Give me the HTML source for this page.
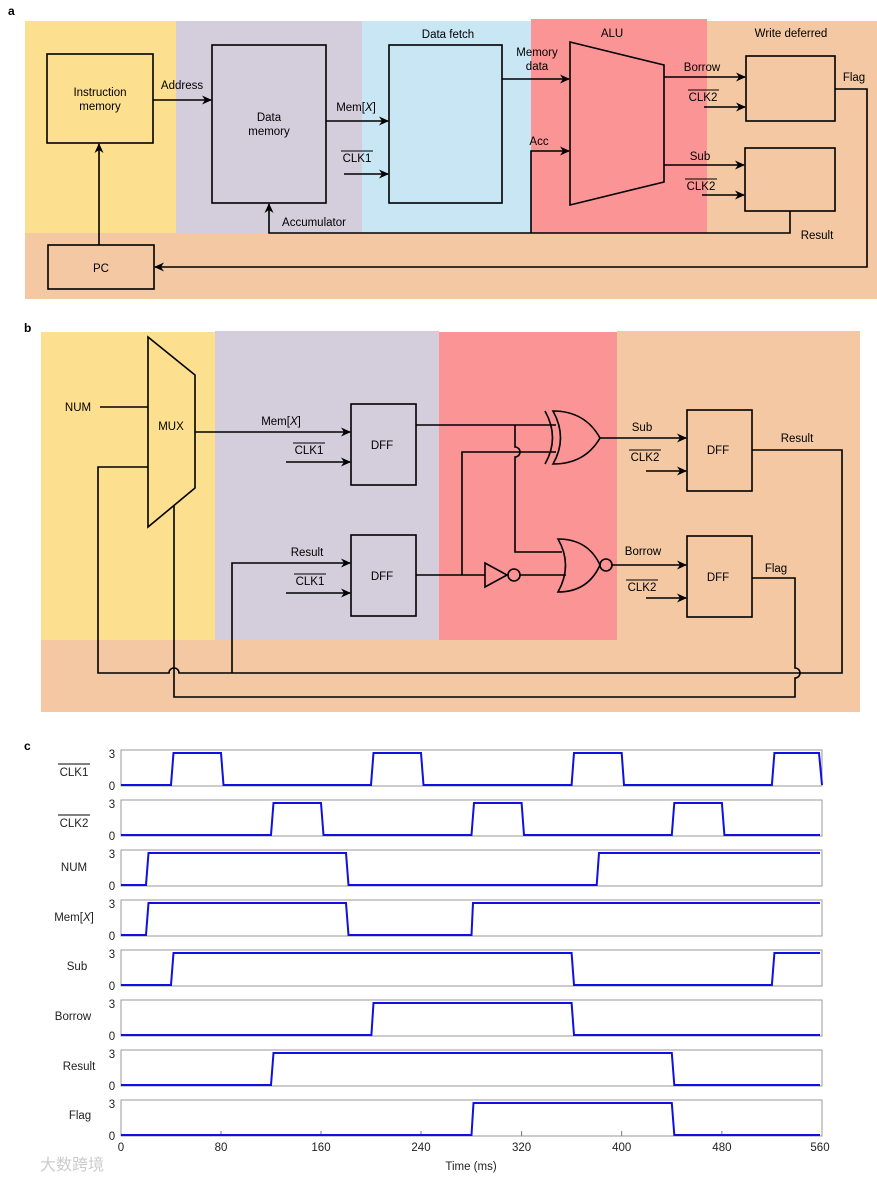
<!DOCTYPE html>
<html><head><meta charset="utf-8"><style>
html,body{margin:0;padding:0;background:#fff;}
svg{display:block;font-family:"Liberation Sans",Arial,sans-serif;}
</style></head><body>
<svg width="877" height="1179" viewBox="0 0 877 1179" xmlns="http://www.w3.org/2000/svg">
<defs>
<marker id="ar" markerWidth="10" markerHeight="10" refX="9" refY="5" orient="auto" markerUnits="userSpaceOnUse">
<path d="M0,0.5 L10,5 L0,9.5 L3,5 Z" fill="#000"/></marker>
</defs>
<!-- ===== a ===== -->
<text x="8" y="15" font-size="12" font-weight="bold">a</text>
<rect x="25" y="21" width="151" height="212" fill="#FDE08F"/>
<rect x="176" y="21" width="186" height="212" fill="#D4CEDC"/>
<rect x="362" y="21" width="169" height="212" fill="#C8E6F3"/>
<rect x="531" y="19" width="176" height="214" fill="#FB9494"/>
<rect x="707" y="21" width="170" height="212" fill="#F3C8A2"/>
<rect x="25" y="233" width="852" height="66" fill="#F3C8A2"/>
<g font-size="11.5" text-anchor="middle">
<text x="448" y="38">Data fetch</text>
<text x="612" y="37">ALU</text>
<text x="791" y="37">Write deferred</text>
</g>
<g fill="none" stroke="#000" stroke-width="1.6">
<rect x="47" y="54" width="106" height="89" fill="#FDE08F"/>
<rect x="212" y="45" width="114" height="158" fill="#D4CEDC"/>
<rect x="389" y="45" width="113" height="158" fill="#C8E6F3"/>
<polygon points="570,42 664,65 664,182 570,205" fill="#FB9494"/>
<rect x="746" y="56" width="89" height="65" fill="#F3C8A2"/>
<rect x="745" y="148" width="90" height="63" fill="#F3C8A2"/>
<rect x="48" y="245" width="106" height="44" fill="#F3C8A2"/>
<line x1="153" y1="100" x2="211" y2="100" marker-end="url(#ar)"/>
<line x1="326" y1="121" x2="388" y2="121" marker-end="url(#ar)"/>
<line x1="344" y1="174" x2="388" y2="174" marker-end="url(#ar)"/>
<line x1="502" y1="79" x2="569" y2="79" marker-end="url(#ar)"/>
<polyline points="531,233 531,151 569,151" marker-end="url(#ar)"/>
<polyline points="790,211 790,233 269,233 269,204" marker-end="url(#ar)"/>
<line x1="664" y1="77" x2="745" y2="77" marker-end="url(#ar)"/>
<line x1="704" y1="107" x2="745" y2="107" marker-end="url(#ar)"/>
<line x1="664" y1="165" x2="744" y2="165" marker-end="url(#ar)"/>
<line x1="702" y1="195" x2="744" y2="195" marker-end="url(#ar)"/>
<polyline points="835,89 867,89 867,267 155,267" marker-end="url(#ar)"/>
<line x1="99" y1="245" x2="99" y2="144" marker-end="url(#ar)"/>
</g>
<g font-size="11.5" text-anchor="middle">
<text x="100" y="96">Instruction</text><text x="100" y="110">memory</text>
<text x="269" y="121">Data</text><text x="269" y="135">memory</text>
<text x="101" y="272">PC</text>
<text x="182" y="89">Address</text>
<text x="356" y="111">Mem[<tspan font-style="italic">X</tspan>]</text>
<text x="357" y="162">CLK1</text>
<text x="314" y="226">Accumulator</text>
<text x="537" y="56">Memory</text><text x="537" y="70">data</text>
<text x="539" y="145">Acc</text>
<text x="702" y="71">Borrow</text>
<text x="703" y="101">CLK2</text>
<text x="700" y="160">Sub</text>
<text x="701" y="190">CLK2</text>
<text x="854" y="81">Flag</text>
<text x="817" y="239">Result</text>
</g>
<g stroke="#000" stroke-width="1">
<line x1="341" y1="151" x2="373" y2="151"/>
<line x1="688" y1="90" x2="719" y2="90"/>
<line x1="685" y1="179" x2="717" y2="179"/>
</g>

<!-- ===== b ===== -->
<text x="24" y="332" font-size="12" font-weight="bold">b</text>
<rect x="41" y="332" width="174" height="308" fill="#FDE08F"/>
<rect x="215" y="331" width="224" height="309" fill="#D4CEDC"/>
<rect x="439" y="332" width="178" height="308" fill="#FB9494"/>
<rect x="617" y="331" width="243" height="309" fill="#F3C8A2"/>
<rect x="41" y="640" width="819" height="72" fill="#F3C8A2"/>
<g fill="none" stroke="#000" stroke-width="1.6">
<polygon points="148,337 195,375 195,488 148,527" fill="#FDE08F"/>
<rect x="351" y="404" width="65" height="81" fill="#D4CEDC"/>
<rect x="351" y="535" width="65" height="81" fill="#D4CEDC"/>
<rect x="687" y="410" width="65" height="81" fill="#F3C8A2"/>
<rect x="687" y="536" width="65" height="81" fill="#F3C8A2"/>
<line x1="100" y1="407" x2="148" y2="407"/>
<line x1="195" y1="432" x2="350" y2="432" marker-end="url(#ar)"/>
<line x1="286" y1="462" x2="350" y2="462" marker-end="url(#ar)"/>
<polyline points="232,673 232,563 350,563" marker-end="url(#ar)"/>
<line x1="286" y1="593" x2="350" y2="593" marker-end="url(#ar)"/>
<!-- DFF1 out to XOR -->
<line x1="416" y1="425" x2="556" y2="425"/>
<path d="M515,425 V447 A5,5 0 0 1 515,457 V552 H562"/>
<!-- DFF2 out -->
<line x1="416" y1="575" x2="485" y2="575"/>
<polyline points="462,575 462,452 556,452"/>
<!-- inverter -->
<polygon points="485,563 485,587 507,575" fill="none"/>
<circle cx="514" cy="575" r="6" fill="none"/>
<line x1="520" y1="575" x2="566" y2="575"/>
<!-- XOR -->
<path d="M553,411 Q568,438 553,464 Q585,464 600,438 Q585,411 553,411 Z"/>
<path d="M545,411 Q560,438 545,464"/>
<line x1="600" y1="438" x2="686" y2="438" marker-end="url(#ar)"/>
<!-- NOR -->
<path d="M558,539 Q573,565 558,592 Q588,592 600,565 Q588,539 558,539 Z"/>
<circle cx="606" cy="565" r="6"/>
<line x1="612" y1="565" x2="686" y2="565" marker-end="url(#ar)"/>
<line x1="646" y1="471" x2="686" y2="471" marker-end="url(#ar)"/>
<line x1="646" y1="598" x2="686" y2="598" marker-end="url(#ar)"/>
<!-- feedback -->
<path d="M752,450 H842 V673 H179 A5,5 0 0 0 169,673 H98 V467 H148"/>
<path d="M174,506 V697 H795 V678 A5,5 0 0 0 795,668 V578 H752"/>
</g>
<g font-size="11.5" text-anchor="middle">
<text x="78" y="411">NUM</text>
<text x="171" y="430">MUX</text>
<text x="281" y="425">Mem[<tspan font-style="italic">X</tspan>]</text>
<text x="309" y="454">CLK1</text>
<text x="307" y="556">Result</text>
<text x="310" y="585">CLK1</text>
<text x="382" y="449">DFF</text>
<text x="382" y="580">DFF</text>
<text x="718" y="454">DFF</text>
<text x="718" y="581">DFF</text>
<text x="642" y="431">Sub</text>
<text x="643" y="555">Borrow</text>
<text x="645" y="461">CLK2</text>
<text x="642" y="591">CLK2</text>
<text x="797" y="442">Result</text>
<text x="776" y="572">Flag</text>
</g>
<g stroke="#000" stroke-width="1">
<line x1="293" y1="443" x2="325" y2="443"/>
<line x1="294" y1="574" x2="326" y2="574"/>
<line x1="629" y1="450" x2="661" y2="450"/>
<line x1="626" y1="580" x2="658" y2="580"/>
</g>

<!-- ===== c ===== -->
<text x="24" y="750" font-size="12" font-weight="bold">c</text>
<g fill="none" stroke="#999" stroke-width="1">
<rect x="121" y="750" width="701" height="36"/>
<rect x="121" y="800" width="701" height="36"/>
<rect x="121" y="850" width="701" height="36"/>
<rect x="121" y="900" width="701" height="36"/>
<rect x="121" y="950" width="701" height="36"/>
<rect x="121" y="1000" width="701" height="36"/>
<rect x="121" y="1050" width="701" height="36"/>
<rect x="121" y="1100" width="701" height="36"/>
</g>
<g stroke="#777" stroke-width="1">
<line x1="221" y1="1136" x2="221" y2="1131"/><line x1="321" y1="1136" x2="321" y2="1131"/>
<line x1="421" y1="1136" x2="421" y2="1131"/><line x1="521.6" y1="1136" x2="521.6" y2="1131"/>
<line x1="621.7" y1="1136" x2="621.7" y2="1131"/><line x1="721.9" y1="1136" x2="721.9" y2="1131"/>
</g>
<g font-size="11.5" text-anchor="middle" fill="#222">
<text x="112" y="758">3</text><text x="112" y="790">0</text>
<text x="112" y="808">3</text><text x="112" y="840">0</text>
<text x="112" y="858">3</text><text x="112" y="890">0</text>
<text x="112" y="908">3</text><text x="112" y="940">0</text>
<text x="112" y="958">3</text><text x="112" y="990">0</text>
<text x="112" y="1008">3</text><text x="112" y="1040">0</text>
<text x="112" y="1058">3</text><text x="112" y="1090">0</text>
<text x="112" y="1108">3</text><text x="112" y="1140">0</text>
<text x="74" y="776">CLK1</text>
<text x="74" y="827">CLK2</text>
<text x="74" y="871">NUM</text>
<text x="74" y="921">Mem[<tspan font-style="italic">X</tspan>]</text>
<text x="77" y="970">Sub</text>
<text x="73" y="1020">Borrow</text>
<text x="79" y="1070">Result</text>
<text x="80" y="1119">Flag</text>
<text x="121" y="1151">0</text><text x="221" y="1151">80</text><text x="321" y="1151">160</text>
<text x="421" y="1151">240</text><text x="521.6" y="1151">320</text><text x="621.7" y="1151">400</text>
<text x="721.9" y="1151">480</text><text x="820" y="1151">560</text>
<text x="471" y="1170">Time (ms)</text>
</g>
<g stroke="#000" stroke-width="1">
<line x1="58" y1="764" x2="90" y2="764"/>
<line x1="58" y1="815" x2="90" y2="815"/>
</g>
<g fill="none" stroke="#1010E0" stroke-width="2">
<path d="M121,785 H171 L173.5,753 H221 L223.5,785 H371 L373.5,753 H421 L423.5,785 H571.6 L574,753 H621.7 L624,785 H771.9 L774.4,753 H819 L822,785"/>
<path d="M121,835 H271 L273.5,803 H321 L323.5,835 H471.5 L474,803 H521.6 L524,835 H671.8 L674.3,803 H721.9 L724.4,835 H820"/>
<path d="M121,885 H146 L148.5,853 H346 L348.5,885 H596.7 L599,853 H820"/>
<path d="M121,935 H146 L148.5,903 H346 L348.5,935 H471.5 L473,903 H820"/>
<path d="M121,985 H171 L173.5,953 H571.6 L574,985 H771.9 L774.4,953 H820"/>
<path d="M121,1035 H371.4 L373.5,1003 H571.6 L574,1035 H820"/>
<path d="M121,1085 H271 L273.5,1053 H671.8 L674.3,1085 H820"/>
<path d="M121,1135 H471.5 L473.5,1103 H671.8 L674.3,1135 H820"/>
</g>
<text x="40" y="1170" font-size="16" fill="#ccc" font-family="'Liberation Sans','Noto Sans CJK SC',sans-serif">大数跨境</text>
</svg>
</body></html>
